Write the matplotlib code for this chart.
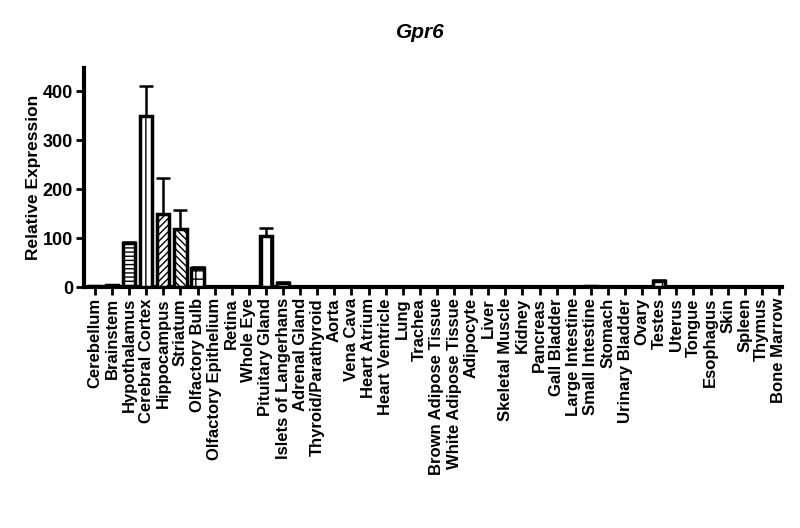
import matplotlib
matplotlib.use("Agg")
import matplotlib.pyplot as plt
import numpy as np

plt.rcParams['font.family'] = ['Liberation Sans', 'DejaVu Sans']
plt.rcParams['hatch.linewidth'] = 1.0

tissues = ["Cerebellum", "Brainstem", "Hypothalamus", "Cerebral Cortex", "Hippocampus",
           "Striatum", "Olfactory Bulb", "Olfactory Epithelium", "Retina", "Whole Eye",
           "Pituitary Gland", "Islets of Langerhans", "Adrenal Gland", "Thyroid/Parathyroid",
           "Aorta", "Vena Cava", "Heart Atrium", "Heart Ventricle", "Lung", "Trachea",
           "Brown Adipose Tissue", "White Adipose Tissue", "Adipocyte", "Liver",
           "Skeletal Muscle", "Kidney", "Pancreas", "Gall Bladder", "Large Intestine",
           "Small Intestine", "Stomach", "Urinary Bladder", "Ovary", "Testes", "Uterus",
           "Tongue", "Esophagus", "Skin", "Spleen", "Thymus", "Bone Marrow"]
values = [2, 4, 89, 350, 148, 118, 38, 1, 1, 0.3, 105, 8, 0.2, 0.2,
          0.2, 0.2, 0.2, 0.2, 0.2, 0.2, 0.2, 0.2, 0.2, 0.2, 0.2, 0.2, 0.2, 0.2, 0.2,
          2, 0.2, 0.2, 0.2, 12, 0.2, 0.2, 0.2, 0.2, 0.2, 0.2, 0.2]
errors = [0.5, 1, 3, 60, 74, 39, 2, 0.3, 0.3, 0.1, 15, 2, 0, 0,
          0, 0, 0, 0, 0, 0, 0, 0, 0, 0, 0, 0, 0, 0, 0,
          0.5, 0, 0, 0, 2, 0, 0, 0, 0, 0, 0, 0]
hatches = {"Hypothalamus": "----", "Cerebral Cortex": "||", "Hippocampus": "/////",
           "Striatum": "\\\\\\\\\\", "Olfactory Bulb": "++", "Pituitary Gland": "||",
           "Testes": "++"}

fig = plt.figure(figsize=(8, 5.28), dpi=100)
ax = fig.add_axes([84/800, 1-287/528, (782-84)/800, (287-68)/528])

x = np.arange(len(tissues))
for i, (t, v, e) in enumerate(zip(tissues, values, errors)):
    if e > 0:
        ax.errorbar(i, v, yerr=[[0], [e]], fmt='none', ecolor='black',
                    elinewidth=1.8, capsize=5, capthick=1.8, zorder=2)
    ax.bar(i, v, width=0.72, color='white', edgecolor='black', linewidth=2.5,
           hatch=hatches.get(t, None), zorder=3)

ax.set_xlim(-0.64, 40.18)
ax.set_ylim(0, 447)
ax.set_yticks([0, 100, 200, 300, 400])
ax.set_xticks(x)
ax.set_xticklabels(tissues, rotation=90, fontsize=12, fontweight='bold')
for lbl in ax.get_yticklabels():
    lbl.set_fontsize(13)
    lbl.set_fontweight('bold')
ax.spines['top'].set_visible(False)
ax.spines['right'].set_visible(False)
ax.spines['left'].set_linewidth(3)
ax.spines['bottom'].set_linewidth(3)
ax.tick_params(axis='both', width=2, length=6, direction='out', pad=2)
ax.set_ylabel("Relative Expression", fontsize=12.5, fontweight='bold', labelpad=1)
fig.text(420/800, 1-33/528, "Gpr6", ha='center', va='center', fontsize=15,
         fontweight='bold', fontstyle='italic')

fig.savefig("out.png", dpi=100)
